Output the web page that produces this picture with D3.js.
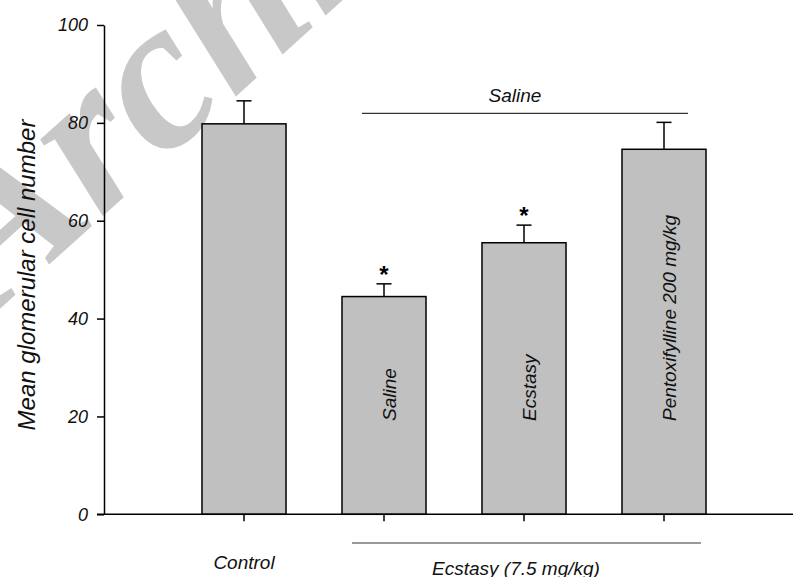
<!DOCTYPE html>
<html>
<head>
<meta charset="utf-8">
<script src="https://cdn.jsdelivr.net/npm/d3@7"></script>
<style>
  html, body { margin: 0; padding: 0; background: #fff; }
  svg text { font-family: "Liberation Sans", Arial, sans-serif; }
</style>
</head>
<body>
<svg id="chart" width="795" height="577"></svg>
<script>
// ---- data ----
const categories = ["Control", "Saline", "Ecstasy", "Pentoxifylline 200 mg/kg"];
const barLabels = ["", "Saline", "Ecstasy", "Pentoxifylline 200 mg/kg"];
const means = [79.8, 44.5, 55.5, 74.6];
const errors = [4.7, 2.6, 3.6, 5.5];
const significant = [false, true, true, false];
const yTicks = [0, 20, 40, 60, 80, 100];
const yLabel = "Mean glomerular cell number";
const xLabelControl = "Control";
const groupTop = "Saline";
const groupBottom = "Ecstasy (7.5 mg/kg)";
const watermark = "Archive";

// ---- layout ----
const svg = d3.select("#chart");
const axisX = 104, axisY0 = 514.3, axisYTop = 25;

const x = d3.scaleBand().domain(categories).range([174, 734]).paddingInner(0.4).paddingOuter(0.2);
const y = d3.scaleLinear().domain([0, 100]).range([axisY0, axisYTop]);

// watermark
svg.append("text")
  .attr("transform", "translate(-7,315) rotate(-42)")
  .style("font-family", "'Liberation Serif', 'Times New Roman', serif")
  .attr("font-size", 215)
  .attr("font-weight", "bold")
  .attr("font-style", "italic")
  .attr("fill", "#c8c8c8")
  .text(watermark);

// bars
const bw = x.bandwidth();
const g = svg.append("g");
g.selectAll("rect.bar").data(categories).join("rect")
  .attr("class", "bar")
  .attr("x", d => x(d))
  .attr("y", (d, i) => y(means[i]))
  .attr("width", bw)
  .attr("height", (d, i) => y(0) - y(means[i]))
  .attr("fill", "#c0c0c0")
  .attr("stroke", "#000")
  .attr("stroke-width", 1.5);

// error bars
const cx = d => x(d) + bw / 2;
g.selectAll("line.err").data(categories).join("line")
  .attr("x1", cx).attr("x2", cx)
  .attr("y1", (d, i) => y(means[i]))
  .attr("y2", (d, i) => y(means[i] + errors[i]))
  .attr("stroke", "#000").attr("stroke-width", 1.5);
g.selectAll("line.cap").data(categories).join("line")
  .attr("x1", d => cx(d) - 7.5).attr("x2", d => cx(d) + 7.5)
  .attr("y1", (d, i) => y(means[i] + errors[i]))
  .attr("y2", (d, i) => y(means[i] + errors[i]))
  .attr("stroke", "#000").attr("stroke-width", 1.5);

// asterisks
g.selectAll("text.star").data(categories.filter((d, i) => significant[i])).join("text")
  .attr("x", d => cx(d))
  .attr("y", d => { const i = categories.indexOf(d); return y(means[i] + errors[i]) - 1; })
  .attr("text-anchor", "middle")
  .attr("font-size", 24)
  .attr("font-weight", "bold")
  .text("*");

// in-bar labels
g.selectAll("text.inbar").data(categories.filter((d, i) => barLabels[i])).join("text")
  .attr("transform", d => `translate(${cx(d) + 12},421) rotate(-90)`)
  .attr("text-anchor", "start")
  .attr("font-size", 19)
  .attr("font-style", "italic")
  .attr("fill", "#111")
  .text(d => barLabels[categories.indexOf(d)]);

// y axis
const yAxis = d3.axisLeft(y).tickValues(yTicks).tickSize(7).tickSizeOuter(0).tickPadding(9);
const yg = svg.append("g").attr("transform", `translate(${axisX},0)`).call(yAxis);
yg.select(".domain").attr("stroke-width", 1.5);
yg.selectAll(".tick line").attr("stroke-width", 1.5);
yg.selectAll(".tick text").attr("font-size", 18).attr("font-style", "italic")
  .attr("font-family", "'Liberation Sans', Arial, sans-serif").attr("fill", "#111");

// x axis
const xAxis = d3.axisBottom(x).tickSize(7).tickSizeOuter(0).tickFormat(() => "");
const xg = svg.append("g").attr("transform", `translate(0,${axisY0})`).call(xAxis);
xg.select(".domain").remove();
xg.selectAll(".tick line").attr("stroke-width", 1.5);
svg.append("line")
  .attr("x1", 97).attr("x2", 793).attr("y1", axisY0).attr("y2", axisY0)
  .attr("stroke", "#000").attr("stroke-width", 1.5);

// Control label
svg.append("text")
  .attr("x", cx("Control")).attr("y", 569)
  .attr("text-anchor", "middle").attr("font-size", 19).attr("font-style", "italic")
  .attr("fill", "#111")
  .text(xLabelControl);

// group lines
svg.append("line")
  .attr("x1", x("Saline") + bw / 2 - 22).attr("x2", x(categories[3]) + bw / 2 + 24)
  .attr("y1", 113.3).attr("y2", 113.3)
  .attr("stroke", "#000").attr("stroke-width", 1);
svg.append("text")
  .attr("x", 515).attr("y", 102)
  .attr("text-anchor", "middle").attr("font-size", 19).attr("font-style", "italic")
  .attr("fill", "#111")
  .text(groupTop);

svg.append("line")
  .attr("x1", x("Saline") + bw / 2 - 32).attr("x2", x(categories[3]) + bw / 2 + 37)
  .attr("y1", 543).attr("y2", 543)
  .attr("stroke", "#777").attr("stroke-width", 1.3);
svg.append("text")
  .attr("x", 516).attr("y", 574.5)
  .attr("text-anchor", "middle").attr("font-size", 19).attr("font-style", "italic")
  .attr("fill", "#111")
  .text(groupBottom);

// y label
svg.append("text")
  .attr("transform", `translate(35,275) rotate(-90)`)
  .attr("text-anchor", "middle").attr("font-size", 24).attr("font-style", "italic")
  .attr("fill", "#111")
  .text(yLabel);
</script>
</body>
</html>
